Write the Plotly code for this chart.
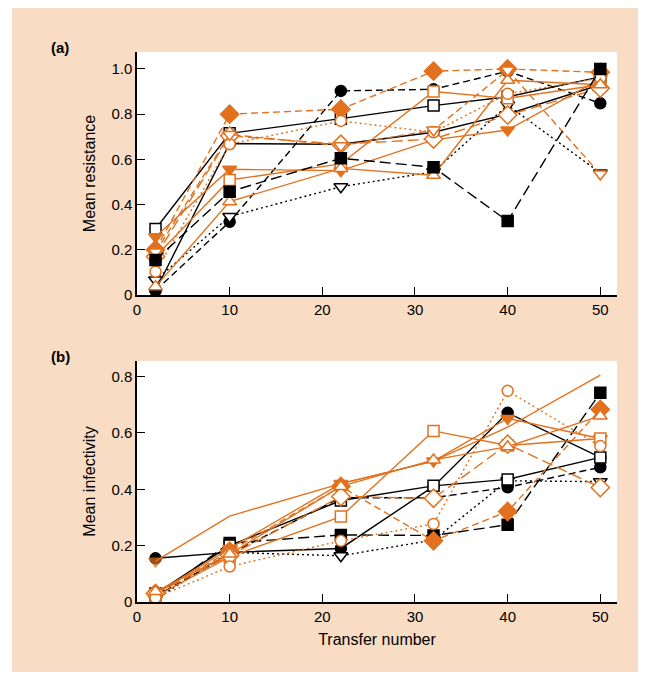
import plotly.graph_objects as go

transfers = [2, 10, 22, 32, 40, 50]
x_ticks = [0, 10, 20, 30, 40, 50]
res_ticks = [0, 0.2, 0.4, 0.6, 0.8, 1.0]
res_tick_text = ["0", "0.2", "0.4", "0.6", "0.8", "1.0"]
inf_ticks = [0, 0.2, 0.4, 0.6, 0.8]
inf_tick_text = ["0", "0.2", "0.4", "0.6", "0.8"]

# ---- panel (a): mean resistance ----
res_k_circle_solid = [0.02, 0.67, 0.667, 0.72, 0.80, 0.93]
res_k_circle_dash = [0.02, 0.324, 0.903, 0.91, 0.99, 0.848]
res_k_tridown_open = [0.066, 0.347, 0.479, 0.545, 0.84, 0.54]
res_k_square_filled = [0.155, 0.457, 0.605, 0.565, 0.327, 1.0]
res_k_square_open = [0.292, 0.715, 0.78, 0.838, 0.877, 0.965]
res_o_diamond_filled = [0.2, 0.80, 0.822, 0.99, 1.0, 0.985]
res_o_tridown_filled = [0.258, 0.556, 0.55, 0.686, 0.73, 0.955]
res_o_square_open = [0.17, 0.509, 0.58, 0.90, 0.87, 0.93]
res_o_diamond_open = [0.17, 0.704, 0.667, 0.69, 0.796, 0.915]
res_o_circle_open = [0.103, 0.667, 0.77, 0.72, 0.89, 0.96]
res_o_triup_open = [0.037, 0.413, 0.56, 0.53, 0.95, 0.93]
res_o_tridown_open = [0.19, 0.71, 0.66, 0.73, 0.995, 0.535]

# ---- panel (b): mean infectivity ----
inf_k_circle_solid = [0.155, 0.176, 0.19, 0.41, 0.671, 0.513]
inf_k_circle_dash = [0.02, 0.17, 0.37, 0.37, 0.407, 0.478]
inf_k_tridown_open = [0.01, 0.176, 0.164, 0.22, 0.43, 0.427]
inf_k_square_filled = [0.02, 0.209, 0.238, 0.236, 0.274, 0.742]
inf_k_square_open = [0.03, 0.2, 0.36, 0.412, 0.435, 0.513]
inf_o_line = [0.145, 0.305, 0.42, 0.50, 0.62, 0.805]
inf_o_diamond_filled = [0.03, 0.18, 0.41, 0.217, 0.321, 0.683]
inf_o_tridown_filled = [0.03, 0.19, 0.42, 0.50, 0.651, 0.58]
inf_o_square_open = [0.02, 0.16, 0.303, 0.607, 0.555, 0.58]
inf_o_diamond_open = [0.03, 0.165, 0.374, 0.368, 0.56, 0.406]
inf_o_circle_open = [0.015, 0.126, 0.217, 0.277, 0.749, 0.553]
inf_o_triup_open = [0.037, 0.17, 0.41, 0.504, 0.551, 0.66]

BLACK = "#000000"
ORANGE = "#E2711D"
PEACH = "#F8DCC4"

DOT = "2px,3px"
DASH = "7px,4px"
LONGDASH = "11px,5px"

# style per series key: (color, symbol, filled, dash, size)
styles = {
    "k_circle_solid": (BLACK, "circle", True, "solid", 11),
    "k_circle_dash": (BLACK, "circle", True, DASH, 11),
    "k_tridown_open": (BLACK, "triangle-down", False, DOT, 12),
    "k_square_filled": (BLACK, "square", True, LONGDASH, 11),
    "k_square_open": (BLACK, "square", False, "solid", 11),
    "o_line": (ORANGE, "triangle-down", True, "solid", 12),
    "o_diamond_filled": (ORANGE, "diamond", True, DASH, 14),
    "o_tridown_filled": (ORANGE, "triangle-down", True, "solid", 12),
    "o_square_open": (ORANGE, "square", False, "solid", 11),
    "o_diamond_open": (ORANGE, "diamond", False, LONGDASH, 14),
    "o_circle_open": (ORANGE, "circle", False, DOT, 11),
    "o_triup_open": (ORANGE, "triangle-up", False, "solid", 12),
    "o_tridown_open": (ORANGE, "triangle-down", False, DASH, 12),
}

panel_a = [
    ("k_circle_solid", res_k_circle_solid),
    ("k_circle_dash", res_k_circle_dash),
    ("k_tridown_open", res_k_tridown_open),
    ("k_square_open", res_k_square_open),
    ("o_diamond_filled", res_o_diamond_filled),
    ("o_tridown_filled", res_o_tridown_filled),
    ("o_square_open", res_o_square_open),
    ("o_diamond_open", res_o_diamond_open),
    ("o_circle_open", res_o_circle_open),
    ("o_triup_open", res_o_triup_open),
    ("o_tridown_open", res_o_tridown_open),
    ("k_square_filled", res_k_square_filled),
]
panel_b = [
    ("k_circle_solid", inf_k_circle_solid),
    ("k_circle_dash", inf_k_circle_dash),
    ("k_tridown_open", inf_k_tridown_open),
    ("k_square_filled", inf_k_square_filled),
    ("k_square_open", inf_k_square_open),
    ("o_line", inf_o_line),
    ("o_diamond_filled", inf_o_diamond_filled),
    ("o_tridown_filled", inf_o_tridown_filled),
    ("o_square_open", inf_o_square_open),
    ("o_diamond_open", inf_o_diamond_open),
    ("o_circle_open", inf_o_circle_open),
    ("o_triup_open", inf_o_triup_open),
]

fig = go.Figure()


def add_series(key, values, xa, ya):
    color, symbol, filled, dash, size = styles[key]
    sizes = size
    if key == "o_line":
        sizes = [size] + [0] * (len(values) - 1)
    fig.add_trace(go.Scatter(
        x=transfers, y=values, mode="lines+markers",
        xaxis=xa, yaxis=ya, showlegend=False, hoverinfo="skip",
        line=dict(color=color, width=1.4, dash=dash),
        marker=dict(symbol=symbol, size=sizes,
                    color=color if filled else "white",
                    line=dict(color=color, width=1.5)),
    ))


for key, vals in panel_a:
    add_series(key, vals, "x", "y")
for key, vals in panel_b:
    add_series(key, vals, "x2", "y2")

FONT = "Liberation Sans, Arial, sans-serif"
axis_common = dict(
    showline=True, linecolor="black", linewidth=1.5,
    ticks="inside", ticklen=8, tickwidth=1.3, tickcolor="black",
    showgrid=False, zeroline=False, mirror=False, automargin=False,
    tickfont=dict(family=FONT, size=15, color="black"),
)

W = 480.0
H = 550.0
L, T = 129, 44
FIG_W, FIG_H = 643, 673
A_DOM = [0.5582, 1]
B_DOM = [0, 0.4382]


def px(fx):
    return (fx - L) / W


def py(fy):
    return (T + H - fy) / H


white_strip = dict(fillcolor="white", line=dict(width=0), layer="above",
                   type="rect", xref="paper", yref="paper")

fig.update_layout(
    width=FIG_W, height=FIG_H,
    margin=dict(l=L, r=FIG_W - L - int(W), t=T, b=FIG_H - T - int(H)),
    paper_bgcolor=PEACH, plot_bgcolor="white",
    font=dict(family=FONT, color="black"),
    xaxis=dict(domain=[0, 1], anchor="y", range=[0, 51.8],
               tickvals=x_ticks, **axis_common),
    yaxis=dict(domain=A_DOM, anchor="x", range=[0, 1.075],
               tickvals=res_ticks, ticktext=res_tick_text,
               title=dict(text="Mean resistance", standoff=12,
                          font=dict(family=FONT, size=16)),
               **axis_common),
    xaxis2=dict(domain=[0, 1], anchor="y2", range=[0, 51.8],
                tickvals=x_ticks,
                title=dict(text="Transfer number", standoff=10,
                           font=dict(family=FONT, size=16)),
                **axis_common),
    yaxis2=dict(domain=B_DOM, anchor="x2", range=[0, 0.855],
                tickvals=inf_ticks, ticktext=inf_tick_text,
                title=dict(text="Mean infectivity", standoff=12,
                           font=dict(family=FONT, size=16)),
                **axis_common),
    shapes=[
        dict(white_strip, x0=px(0), x1=px(4), y0=py(FIG_H), y1=py(0)),
        dict(white_strip, x0=px(630), x1=px(FIG_W), y0=py(FIG_H), y1=py(0)),
        dict(white_strip, x0=px(0), x1=px(FIG_W), y0=py(FIG_H), y1=py(664)),
    ],
    annotations=[
        dict(text="<b>(a)</b>", xref="paper", yref="paper",
             x=px(52), y=py(39), xanchor="center", yanchor="middle",
             showarrow=False, font=dict(family=FONT, size=15, color="black")),
        dict(text="<b>(b)</b>", xref="paper", yref="paper",
             x=px(52), y=py(348), xanchor="center", yanchor="middle",
             showarrow=False, font=dict(family=FONT, size=15, color="black")),
    ],
)

fig.write_html("out.html")
